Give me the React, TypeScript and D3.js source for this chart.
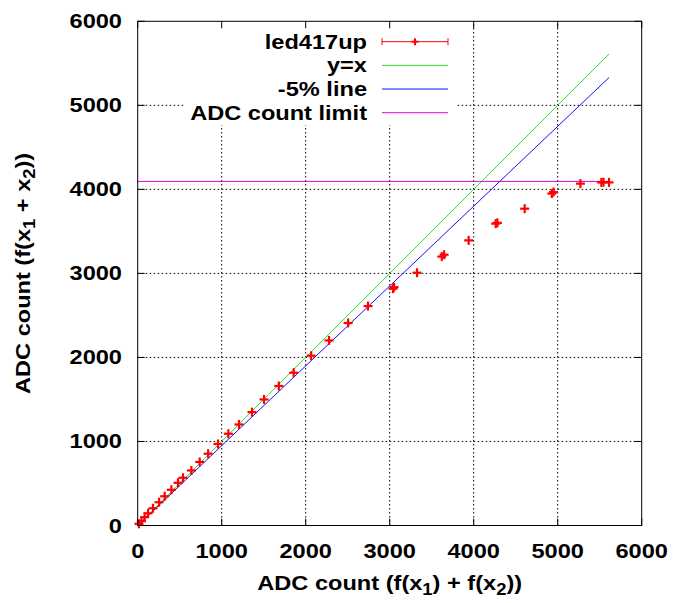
import React from "react";
import * as d3 from "d3";

const seriesName = "led417up";
const xSum = [15, 44, 83, 123, 182, 254, 321, 401, 480, 539, 639, 738, 839, 956, 1079, 1206, 1361, 1504, 1680, 1857, 2065, 2277, 2505, 2742, 3039, 3052, 3325, 3620, 3648, 3940, 4262, 4282, 4607, 4930, 4950, 5270, 5520, 5545, 5611];
const yMeas = [20, 51, 99, 146, 205, 277, 348, 425, 508, 568, 655, 756, 854, 970, 1092, 1202, 1349, 1500, 1660, 1818, 2020, 2202, 2410, 2611, 2818, 2836, 3008, 3200, 3222, 3393, 3592, 3602, 3770, 3950, 3968, 4068, 4083, 4085, 4083];
const adcLimit = 4095;
const lowerFactor = 0.95;
const tickValues = [0, 1000, 2000, 3000, 4000, 5000, 6000];
const legendLabels = ["led417up", "y=x", "-5% line", "ADC count limit"];

const W = 673, H = 603;
const L = 137.7, R = 641.7, T = 21.3, B = 525.5;
const FS = 20;
const SX = 1.18;
const FONT = "'Liberation Sans', Arial, Helvetica, sans-serif";
const RED = "#ff0000", GREEN = "#22e022", BLUE = "#1010ff", MAG = "#dd00dd";

function SText({ x, y, anchor = "start", rotate = false, children }: any) {
  const tr = rotate
    ? `translate(${x},${y}) rotate(-90) scale(${SX},1)`
    : `translate(${x},${y}) scale(${SX},1)`;
  return (
    <text transform={tr} textAnchor={anchor} fontFamily={FONT} fontWeight="bold" fontSize={FS} fill="#000">
      {children}
    </text>
  );
}

export default function App() {
  const x = d3.scaleLinear().domain([0, 6000]).range([L, R]);
  const y = d3.scaleLinear().domain([0, 6000]).range([B, T]);
  const xmax = d3.max(xSum) as number;
  const line = d3.line<[number, number]>().x((d) => x(d[0])).y((d) => y(d[1]));
  const diag: [number, number][] = [[0, 0], [xmax, xmax]];
  const lower: [number, number][] = [[0, 0], [xmax, xmax * lowerFactor]];
  const limit: [number, number][] = [[0, adcLimit], [xmax, adcLimit]];

  const tick = 7;
  const key = { x0: 184, x1: 456, y0: T + 1, y1: 125 };
  const rowY = (i: number) => 41.7 + i * 23.67;
  const textR = 367;
  const ls0 = 382, ls1 = 448;
  const sub = { fontSize: FS * 0.78 };
  const arm = 4.5;

  return (
    <svg width={W} height={H} style={{ position: "absolute", left: 0, top: 0, background: "#fff" }}>
      <rect x={0} y={0} width={W} height={H} fill="#fff" />
      <g stroke="#000" strokeWidth={1} strokeDasharray="1.5,2.5">
        {tickValues.slice(1, -1).map((v) => (
          <line key={"gx" + v} x1={x(v)} x2={x(v)} y1={B} y2={T} />
        ))}
        {tickValues.slice(1, -1).map((v) => (
          <line key={"gy" + v} x1={L} x2={R} y1={y(v)} y2={y(v)} />
        ))}
      </g>
      <rect x={key.x0} y={key.y0} width={key.x1 - key.x0} height={key.y1 - key.y0} fill="#fff" />
      <path d={line(diag) || ""} stroke={GREEN} strokeWidth={1} fill="none" />
      <path d={line(lower) || ""} stroke={BLUE} strokeWidth={1} fill="none" />
      <path d={line(limit) || ""} stroke={MAG} strokeWidth={1} fill="none" />
      <g stroke={RED} strokeWidth={2.2}>
        {xSum.map((xv, i) => (
          <g key={"p" + i}>
            <line x1={x(xv) - arm} x2={x(xv) + arm} y1={y(yMeas[i])} y2={y(yMeas[i])} />
            <line x1={x(xv)} x2={x(xv)} y1={y(yMeas[i]) - arm} y2={y(yMeas[i]) + arm} />
          </g>
        ))}
      </g>
      <rect x={L} y={T} width={R - L} height={B - T} fill="none" stroke="#000" strokeWidth={1} />
      <g stroke="#000" strokeWidth={1}>
        {tickValues.map((v) => (
          <g key={"t" + v}>
            <line x1={x(v)} x2={x(v)} y1={B} y2={B - tick} />
            <line x1={x(v)} x2={x(v)} y1={T} y2={T + tick} />
            <line x1={L} x2={L + tick} y1={y(v)} y2={y(v)} />
            <line x1={R} x2={R - tick} y1={y(v)} y2={y(v)} />
          </g>
        ))}
      </g>
      {tickValues.map((v) => (
        <SText key={"xl" + v} x={x(v)} y={558} anchor="middle">{String(v)}</SText>
      ))}
      {tickValues.map((v) => (
        <SText key={"yl" + v} x={122} y={y(v) + 7} anchor="end">{String(v)}</SText>
      ))}
      <SText x={(L + R) / 2} y={590} anchor="middle">
        ADC count (f(x<tspan dy={5} style={sub}>1</tspan><tspan dy={-5}>) + f(x</tspan><tspan dy={5} style={sub}>2</tspan><tspan dy={-5}>))</tspan>
      </SText>
      <SText x={30} y={(T + B) / 2} anchor="middle" rotate>
        ADC count (f(x<tspan dy={5} style={sub}>1</tspan><tspan dy={-5}> + x</tspan><tspan dy={5} style={sub}>2</tspan><tspan dy={-5}>))</tspan>
      </SText>
      {legendLabels.map((lab, i) => (
        <SText key={"lg" + i} x={textR} y={rowY(i) + 7} anchor="end">{lab}</SText>
      ))}
      <g stroke={RED} strokeWidth={1}>
        <line x1={ls0} x2={ls1} y1={rowY(0)} y2={rowY(0)} />
        <line x1={ls0} x2={ls0} y1={rowY(0) - 3.5} y2={rowY(0) + 3.5} />
        <line x1={ls1} x2={ls1} y1={rowY(0) - 3.5} y2={rowY(0) + 3.5} />
        <line x1={(ls0 + ls1) / 2 - 3.5} x2={(ls0 + ls1) / 2 + 3.5} y1={rowY(0)} y2={rowY(0)} strokeWidth={2} />
        <line x1={(ls0 + ls1) / 2} x2={(ls0 + ls1) / 2} y1={rowY(0) - 3.5} y2={rowY(0) + 3.5} strokeWidth={2} />
      </g>
      <line x1={ls0} x2={ls1} y1={rowY(1)} y2={rowY(1)} stroke={GREEN} strokeWidth={1} />
      <line x1={ls0} x2={ls1} y1={rowY(2)} y2={rowY(2)} stroke={BLUE} strokeWidth={1} />
      <line x1={ls0} x2={ls1} y1={rowY(3)} y2={rowY(3)} stroke={MAG} strokeWidth={1} />
      <title>{seriesName}</title>
    </svg>
  );
}
